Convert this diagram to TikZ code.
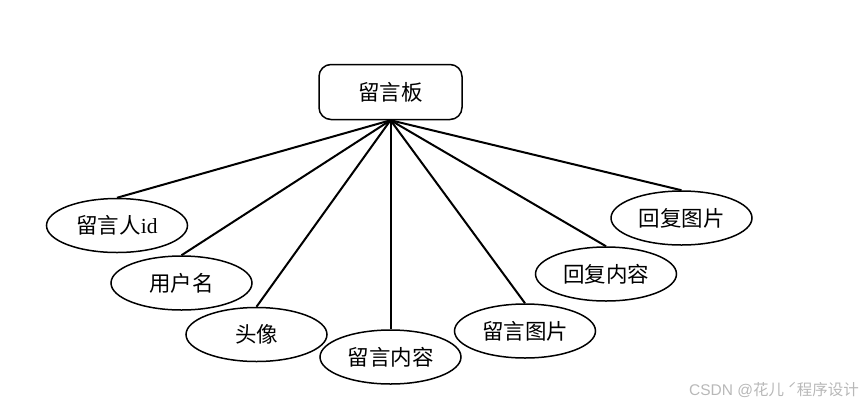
\documentclass[tikz,border=0pt]{standalone}
\usepackage{fontspec}
\setmainfont{Liberation Serif}
\newfontfamily\cjk{Noto Sans CJK SC}
\newfontfamily\wmfont{Liberation Sans}
\usetikzlibrary{shapes.geometric}
\begin{document}
\begin{tikzpicture}[x=1pt,y=-1pt,
  attr/.style={ellipse,draw=black,line width=1.5pt,minimum width=141pt,minimum height=54pt,inner sep=0pt,font=\fontsize{21.5}{24}\selectfont\cjk},
  entity/.style={rectangle,rounded corners=12pt,draw=black,line width=1.5pt,minimum width=143pt,minimum height=55pt,inner sep=0pt,font=\fontsize{21.5}{24}\selectfont\cjk},
  link/.style={line width=2pt,black}]
\useasboundingbox (0,0) rectangle (865,405);
\node[entity] (board) at (390.5,92) {留言板};
\node[attr] (a1) at (117,225.5) {留言人{\rmfamily id}};
\node[attr] (a2) at (181.5,283) {用户名};
\node[attr] (a3) at (256.5,334.5) {头像};
\node[attr] (a4) at (390.5,357) {留言内容};
\node[attr] (a5) at (525,331) {留言图片};
\node[attr] (a6) at (606,274) {回复内容};
\node[attr] (a7) at (681.5,218) {回复图片};
\foreach \n in {a1,a2,a3,a4,a5,a6,a7}
  \draw[link] (board.south) -- (\n.north);
\node[font=\fontsize{15.5}{18}\selectfont\wmfont,text=black!28,anchor=east,inner sep=0pt] (wm) at (859,390) {CSDN @{\cjk 花儿 ˊ程序设计}};
\end{tikzpicture}
\end{document}
